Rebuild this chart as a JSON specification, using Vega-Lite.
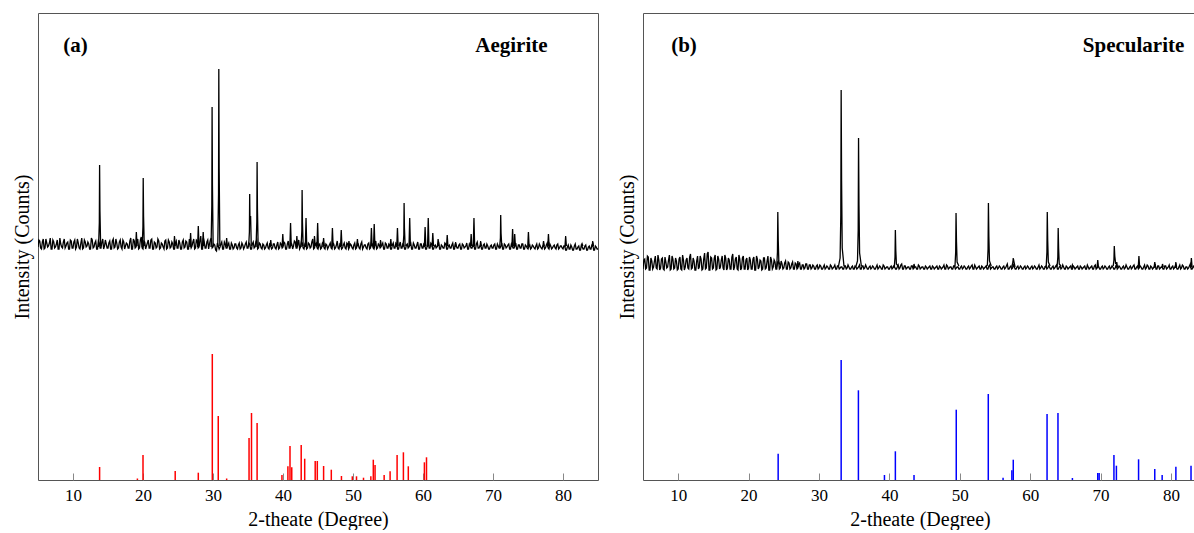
{
  "$schema": "https://vega.github.io/schema/vega-lite/v6.json",
  "padding": {"left": 11, "top": 12, "right": 0, "bottom": 0},
  "spacing": 17,
  "config": {
    "font": "Liberation Serif",
    "view": {"stroke": "#555555", "strokeWidth": 1},
    "axis": {"labelFont": "Liberation Serif", "titleFont": "Liberation Serif"},
    "text": {"font": "Liberation Serif"}
  },
  "datasets": {
    "aScan": [
      {"t":5,"i":233,"g":0},{"t":5.25,"i":239,"g":0},{"t":5.5,"i":231,"g":0},{"t":5.75,"i":241,"g":0},{"t":6,"i":232,"g":0},{"t":6.25,"i":237,"g":0},{"t":6.5,"i":234,"g":0},{"t":6.75,"i":242,"g":0},{"t":7,"i":231,"g":0},{"t":7.25,"i":238,"g":0},{"t":7.5,"i":233,"g":0},{"t":7.75,"i":240,"g":0},{"t":8,"i":231,"g":0},{"t":8.25,"i":236,"g":0},{"t":8.5,"i":232,"g":0},{"t":8.75,"i":241,"g":0},{"t":9,"i":234,"g":0},{"t":9.25,"i":238,"g":0},{"t":9.5,"i":231,"g":0},{"t":9.75,"i":239,"g":0},
      {"t":10,"i":232,"g":0},{"t":10.25,"i":240,"g":0},{"t":10.5,"i":233,"g":0},{"t":10.75,"i":237,"g":0},{"t":11,"i":231,"g":0},{"t":11.25,"i":242,"g":0},{"t":11.5,"i":232,"g":0},{"t":11.75,"i":238,"g":0},{"t":12,"i":234,"g":0},{"t":12.25,"i":236,"g":0},{"t":12.5,"i":231,"g":0},{"t":12.75,"i":240,"g":0},{"t":13,"i":233,"g":0},{"t":13.25,"i":239,"g":0},{"t":13.5,"i":231,"g":0},{"t":13.75,"i":237,"g":0},{"t":14,"i":232,"g":0},{"t":14.25,"i":241,"g":0},{"t":14.5,"i":234,"g":0},{"t":14.75,"i":236,"g":0},
      {"t":15,"i":232,"g":0},{"t":15.25,"i":239,"g":0},{"t":15.5,"i":231,"g":0},{"t":15.75,"i":241,"g":0},{"t":16,"i":233,"g":0},{"t":16.25,"i":237,"g":0},{"t":16.5,"i":232,"g":0},{"t":16.75,"i":240,"g":0},{"t":17,"i":231,"g":0},{"t":17.25,"i":238,"g":0},{"t":17.5,"i":234,"g":0},{"t":17.75,"i":236,"g":0},{"t":18,"i":232,"g":0},{"t":18.25,"i":242,"g":0},{"t":18.5,"i":231,"g":0},{"t":18.75,"i":239,"g":0},{"t":19,"i":233,"g":0},{"t":19.25,"i":241,"g":0},{"t":19.5,"i":232,"g":0},{"t":19.75,"i":243,"g":0},
      {"t":20,"i":231,"g":0},{"t":20.25,"i":238,"g":0},{"t":20.5,"i":234,"g":0},{"t":20.75,"i":240,"g":0},{"t":21,"i":232,"g":0},{"t":21.25,"i":241,"g":0},{"t":21.5,"i":231,"g":0},{"t":21.75,"i":237,"g":0},{"t":22,"i":233,"g":0},{"t":22.25,"i":239,"g":0},{"t":22.5,"i":232,"g":0},{"t":22.75,"i":236,"g":0},{"t":23,"i":231,"g":0},{"t":23.25,"i":240,"g":0},{"t":23.5,"i":232,"g":0},{"t":23.75,"i":238,"g":0},{"t":24,"i":233,"g":0},{"t":24.25,"i":236,"g":0},{"t":24.5,"i":231,"g":0},{"t":24.75,"i":239,"g":0},
      {"t":25,"i":232,"g":0},{"t":25.25,"i":237,"g":0},{"t":25.5,"i":231,"g":0},{"t":25.75,"i":240,"g":0},{"t":26,"i":233,"g":0},{"t":26.25,"i":238,"g":0},{"t":26.5,"i":231,"g":0},{"t":26.75,"i":236,"g":0},{"t":27,"i":234,"g":0},{"t":27.25,"i":241,"g":0},{"t":27.5,"i":232,"g":0},{"t":27.75,"i":239,"g":0},{"t":28,"i":233,"g":0},{"t":28.25,"i":244,"g":0},{"t":28.5,"i":231,"g":0},{"t":28.75,"i":238,"g":0},{"t":29,"i":232,"g":0},{"t":29.25,"i":240,"g":0},{"t":29.5,"i":236,"g":0},{"t":29.75,"i":242,"g":0},
      {"t":30,"i":233,"g":0},{"t":30.25,"i":235,"g":0},{"t":30.5,"i":229,"g":0},{"t":30.75,"i":234,"g":0},{"t":31,"i":233,"g":0},{"t":31.25,"i":238,"g":0},{"t":31.5,"i":231,"g":0},{"t":31.75,"i":236,"g":0},{"t":32,"i":232,"g":0},{"t":32.25,"i":237,"g":0},{"t":32.5,"i":231,"g":0},{"t":32.75,"i":235,"g":0},{"t":33,"i":232,"g":0},{"t":33.25,"i":236,"g":0},{"t":33.5,"i":231,"g":0},{"t":33.75,"i":237,"g":0},{"t":34,"i":232,"g":0},{"t":34.25,"i":235,"g":0},{"t":34.5,"i":233,"g":0},{"t":34.75,"i":238,"g":0},
      {"t":35,"i":232,"g":0},{"t":35.25,"i":236,"g":0},{"t":35.5,"i":231,"g":0},{"t":35.75,"i":238,"g":0},{"t":36,"i":233,"g":0},{"t":36.25,"i":240,"g":0},{"t":36.5,"i":232,"g":0},{"t":36.75,"i":236,"g":0},{"t":37,"i":231,"g":0},{"t":37.25,"i":235,"g":0},{"t":37.5,"i":232,"g":0},{"t":37.75,"i":237,"g":0},{"t":38,"i":231,"g":0},{"t":38.25,"i":234,"g":0},{"t":38.5,"i":232,"g":0},{"t":38.75,"i":236,"g":0},{"t":39,"i":231,"g":0},{"t":39.25,"i":238,"g":0},{"t":39.5,"i":232,"g":0},{"t":39.75,"i":236,"g":0},
      {"t":40,"i":233,"g":0},{"t":40.25,"i":237,"g":0},{"t":40.5,"i":231,"g":0},{"t":40.75,"i":239,"g":0},{"t":41,"i":232,"g":0},{"t":41.25,"i":236,"g":0},{"t":41.5,"i":234,"g":0},{"t":41.75,"i":238,"g":0},{"t":42,"i":232,"g":0},{"t":42.25,"i":240,"g":0},{"t":42.5,"i":233,"g":0},{"t":42.75,"i":237,"g":0},{"t":43,"i":231,"g":0},{"t":43.25,"i":238,"g":0},{"t":43.5,"i":232,"g":0},{"t":43.75,"i":236,"g":0},{"t":44,"i":233,"g":0},{"t":44.25,"i":241,"g":0},{"t":44.5,"i":232,"g":0},{"t":44.75,"i":237,"g":0},
      {"t":45,"i":231,"g":0},{"t":45.25,"i":236,"g":0},{"t":45.5,"i":232,"g":0},{"t":45.75,"i":238,"g":0},{"t":46,"i":231,"g":0},{"t":46.25,"i":235,"g":0},{"t":46.5,"i":233,"g":0},{"t":46.75,"i":237,"g":0},{"t":47,"i":231,"g":0},{"t":47.25,"i":236,"g":0},{"t":47.5,"i":232,"g":0},{"t":47.75,"i":239,"g":0},{"t":48,"i":231,"g":0},{"t":48.25,"i":235,"g":0},{"t":48.5,"i":232,"g":0},{"t":48.75,"i":237,"g":0},{"t":49,"i":231,"g":0},{"t":49.25,"i":236,"g":0},{"t":49.5,"i":233,"g":0},{"t":49.75,"i":235,"g":0},
      {"t":50,"i":231,"g":0},{"t":50.25,"i":237,"g":0},{"t":50.5,"i":232,"g":0},{"t":50.75,"i":236,"g":0},{"t":51,"i":231,"g":0},{"t":51.25,"i":238,"g":0},{"t":51.5,"i":233,"g":0},{"t":51.75,"i":235,"g":0},{"t":52,"i":231,"g":0},{"t":52.25,"i":237,"g":0},{"t":52.5,"i":232,"g":0},{"t":52.75,"i":236,"g":0},{"t":53,"i":231,"g":0},{"t":53.25,"i":239,"g":0},{"t":53.5,"i":232,"g":0},{"t":53.75,"i":235,"g":0},{"t":54,"i":233,"g":0},{"t":54.25,"i":237,"g":0},{"t":54.5,"i":231,"g":0},{"t":54.75,"i":236,"g":0},
      {"t":55,"i":232,"g":0},{"t":55.25,"i":235,"g":0},{"t":55.5,"i":231,"g":0},{"t":55.75,"i":237,"g":0},{"t":56,"i":232,"g":0},{"t":56.25,"i":236,"g":0},{"t":56.5,"i":231,"g":0},{"t":56.75,"i":238,"g":0},{"t":57,"i":232,"g":0},{"t":57.25,"i":235,"g":0},{"t":57.5,"i":231,"g":0},{"t":57.75,"i":236,"g":0},{"t":58,"i":233,"g":0},{"t":58.25,"i":237,"g":0},{"t":58.5,"i":231,"g":0},{"t":58.75,"i":235,"g":0},{"t":59,"i":232,"g":0},{"t":59.25,"i":238,"g":0},{"t":59.5,"i":231,"g":0},{"t":59.75,"i":236,"g":0},
      {"t":60,"i":232,"g":0},{"t":60.25,"i":235,"g":0},{"t":60.5,"i":231,"g":0},{"t":60.75,"i":237,"g":0},{"t":61,"i":232,"g":0},{"t":61.25,"i":236,"g":0},{"t":61.5,"i":231,"g":0},{"t":61.75,"i":235,"g":0},{"t":62,"i":233,"g":0},{"t":62.25,"i":237,"g":0},{"t":62.5,"i":231,"g":0},{"t":62.75,"i":234,"g":0},{"t":63,"i":232,"g":0},{"t":63.25,"i":236,"g":0},{"t":63.5,"i":231,"g":0},{"t":63.75,"i":235,"g":0},{"t":64,"i":232,"g":0},{"t":64.25,"i":237,"g":0},{"t":64.5,"i":231,"g":0},{"t":64.75,"i":234,"g":0},
      {"t":65,"i":232,"g":0},{"t":65.25,"i":236,"g":0},{"t":65.5,"i":231,"g":0},{"t":65.75,"i":235,"g":0},{"t":66,"i":233,"g":0},{"t":66.25,"i":237,"g":0},{"t":66.5,"i":231,"g":0},{"t":66.75,"i":234,"g":0},{"t":67,"i":232,"g":0},{"t":67.25,"i":236,"g":0},{"t":67.5,"i":231,"g":0},{"t":67.75,"i":238,"g":0},{"t":68,"i":232,"g":0},{"t":68.25,"i":235,"g":0},{"t":68.5,"i":231,"g":0},{"t":68.75,"i":236,"g":0},{"t":69,"i":232,"g":0},{"t":69.25,"i":234,"g":0},{"t":69.5,"i":231,"g":0},{"t":69.75,"i":235,"g":0},
      {"t":70,"i":232,"g":0},{"t":70.25,"i":236,"g":0},{"t":70.5,"i":231,"g":0},{"t":70.75,"i":234,"g":0},{"t":71,"i":232,"g":0},{"t":71.25,"i":237,"g":0},{"t":71.5,"i":231,"g":0},{"t":71.75,"i":235,"g":0},{"t":72,"i":233,"g":0},{"t":72.25,"i":236,"g":0},{"t":72.5,"i":231,"g":0},{"t":72.75,"i":234,"g":0},{"t":73,"i":232,"g":0},{"t":73.25,"i":237,"g":0},{"t":73.5,"i":231,"g":0},{"t":73.75,"i":235,"g":0},{"t":74,"i":232,"g":0},{"t":74.25,"i":236,"g":0},{"t":74.5,"i":231,"g":0},{"t":74.75,"i":234,"g":0},
      {"t":75,"i":231,"g":0},{"t":75.25,"i":235,"g":0},{"t":75.5,"i":232,"g":0},{"t":75.75,"i":234,"g":0},{"t":76,"i":231,"g":0},{"t":76.25,"i":236,"g":0},{"t":76.5,"i":232,"g":0},{"t":76.75,"i":234,"g":0},{"t":77,"i":231,"g":0},{"t":77.25,"i":235,"g":0},{"t":77.5,"i":232,"g":0},{"t":77.75,"i":237,"g":0},{"t":78,"i":231,"g":0},{"t":78.25,"i":234,"g":0},{"t":78.5,"i":232,"g":0},{"t":78.75,"i":235,"g":0},{"t":79,"i":231,"g":0},{"t":79.25,"i":236,"g":0},{"t":79.5,"i":232,"g":0},{"t":79.75,"i":234,"g":0},
      {"t":80,"i":231,"g":0},{"t":80.25,"i":234,"g":0},{"t":80.5,"i":230,"g":0},{"t":80.75,"i":235,"g":0},{"t":81,"i":231,"g":0},{"t":81.25,"i":233,"g":0},{"t":81.5,"i":230,"g":0},{"t":81.75,"i":236,"g":0},{"t":82,"i":231,"g":0},{"t":82.25,"i":234,"g":0},{"t":82.5,"i":230,"g":0},{"t":82.75,"i":233,"g":0},{"t":83,"i":231,"g":0},{"t":83.25,"i":235,"g":0},{"t":83.5,"i":230,"g":0},{"t":83.75,"i":234,"g":0},{"t":84,"i":231,"g":0},{"t":84.25,"i":236,"g":0},{"t":84.5,"i":230,"g":0},{"t":84.75,"i":233,"g":0},{"t":85,"i":231,"g":0},
      {"t":5.125,"i":240,"g":0},{"t":5.375,"i":232,"g":0},{"t":5.625,"i":238,"g":0},{"t":5.875,"i":231,"g":0},{"t":6.125,"i":241,"g":0},{"t":6.375,"i":233,"g":0},{"t":6.625,"i":237,"g":0},{"t":6.875,"i":231,"g":0},{"t":7.125,"i":240,"g":0},{"t":7.375,"i":232,"g":0},{"t":7.625,"i":236,"g":0},{"t":7.875,"i":231,"g":0},{"t":8.125,"i":242,"g":0},{"t":8.375,"i":233,"g":0},{"t":8.625,"i":238,"g":0},{"t":8.875,"i":232,"g":0},{"t":9.125,"i":237,"g":0},{"t":9.375,"i":231,"g":0},{"t":9.625,"i":240,"g":0},{"t":9.875,"i":232,"g":0},
      {"t":10.125,"i":238,"g":0},{"t":10.375,"i":231,"g":0},{"t":10.625,"i":241,"g":0},{"t":10.875,"i":232,"g":0},{"t":11.125,"i":237,"g":0},{"t":11.375,"i":231,"g":0},{"t":11.625,"i":240,"g":0},{"t":11.875,"i":233,"g":0},{"t":12.125,"i":238,"g":0},{"t":12.375,"i":231,"g":0},{"t":12.625,"i":242,"g":0},{"t":12.875,"i":232,"g":0},{"t":13.125,"i":237,"g":0},{"t":13.375,"i":231,"g":0},{"t":13.625,"i":239,"g":0},{"t":13.875,"i":232,"g":0},{"t":14.125,"i":238,"g":0},{"t":14.375,"i":231,"g":0},{"t":14.625,"i":240,"g":0},{"t":14.875,"i":232,"g":0},
      {"t":15.125,"i":237,"g":0},{"t":15.375,"i":231,"g":0},{"t":15.625,"i":239,"g":0},{"t":15.875,"i":232,"g":0},{"t":16.125,"i":241,"g":0},{"t":16.375,"i":231,"g":0},{"t":16.625,"i":238,"g":0},{"t":16.875,"i":233,"g":0},{"t":17.125,"i":240,"g":0},{"t":17.375,"i":231,"g":0},{"t":17.625,"i":237,"g":0},{"t":17.875,"i":232,"g":0},{"t":18.125,"i":239,"g":0},{"t":18.375,"i":231,"g":0},{"t":18.625,"i":241,"g":0},{"t":18.875,"i":232,"g":0},{"t":19.125,"i":238,"g":0},{"t":19.375,"i":231,"g":0},{"t":19.625,"i":240,"g":0},{"t":19.875,"i":232,"g":0},
      {"t":20.125,"i":239,"g":0},{"t":20.375,"i":231,"g":0},{"t":20.625,"i":237,"g":0},{"t":20.875,"i":232,"g":0},{"t":21.125,"i":240,"g":0},{"t":21.375,"i":231,"g":0},{"t":21.625,"i":238,"g":0},{"t":21.875,"i":232,"g":0},{"t":22.125,"i":241,"g":0},{"t":22.375,"i":231,"g":0},{"t":22.625,"i":237,"g":0},{"t":22.875,"i":233,"g":0},{"t":23.125,"i":239,"g":0},{"t":23.375,"i":231,"g":0},{"t":23.625,"i":240,"g":0},{"t":23.875,"i":232,"g":0},{"t":24.125,"i":238,"g":0},{"t":24.375,"i":231,"g":0},{"t":24.625,"i":237,"g":0},{"t":24.875,"i":232,"g":0},
      {"t":25.125,"i":240,"g":0},{"t":25.375,"i":231,"g":0},{"t":25.625,"i":238,"g":0},{"t":25.875,"i":232,"g":0},{"t":26.125,"i":239,"g":0},{"t":26.375,"i":231,"g":0},{"t":26.625,"i":241,"g":0},{"t":26.875,"i":232,"g":0},{"t":27.125,"i":238,"g":0},{"t":27.375,"i":231,"g":0},{"t":27.625,"i":240,"g":0},{"t":27.875,"i":232,"g":0},{"t":28.125,"i":239,"g":0},{"t":28.375,"i":231,"g":0},{"t":28.625,"i":242,"g":0},{"t":28.875,"i":232,"g":0},{"t":29.125,"i":238,"g":0},{"t":29.375,"i":231,"g":0},{"t":29.625,"i":240,"g":0},{"t":29.875,"i":232,"g":0},
      {"t":30.125,"i":236,"g":0},{"t":30.375,"i":230,"g":0},{"t":30.625,"i":237,"g":0},{"t":30.875,"i":231,"g":0},{"t":31.125,"i":236,"g":0},{"t":31.375,"i":231,"g":0},{"t":31.625,"i":238,"g":0},{"t":31.875,"i":232,"g":0},{"t":32.125,"i":235,"g":0},{"t":32.375,"i":231,"g":0},{"t":32.625,"i":237,"g":0},{"t":32.875,"i":231,"g":0},{"t":33.125,"i":236,"g":0},{"t":33.375,"i":232,"g":0},{"t":33.625,"i":235,"g":0},{"t":33.875,"i":231,"g":0},{"t":34.125,"i":237,"g":0},{"t":34.375,"i":231,"g":0},{"t":34.625,"i":236,"g":0},{"t":34.875,"i":232,"g":0},
      {"t":35.125,"i":237,"g":0},{"t":35.375,"i":231,"g":0},{"t":35.625,"i":236,"g":0},{"t":35.875,"i":232,"g":0},{"t":36.125,"i":238,"g":0},{"t":36.375,"i":231,"g":0},{"t":36.625,"i":237,"g":0},{"t":36.875,"i":232,"g":0},{"t":37.125,"i":236,"g":0},{"t":37.375,"i":231,"g":0},{"t":37.625,"i":235,"g":0},{"t":37.875,"i":232,"g":0},{"t":38.125,"i":237,"g":0},{"t":38.375,"i":231,"g":0},{"t":38.625,"i":236,"g":0},{"t":38.875,"i":232,"g":0},{"t":39.125,"i":235,"g":0},{"t":39.375,"i":231,"g":0},{"t":39.625,"i":237,"g":0},{"t":39.875,"i":232,"g":0},
      {"t":40.125,"i":238,"g":0},{"t":40.375,"i":231,"g":0},{"t":40.625,"i":236,"g":0},{"t":40.875,"i":232,"g":0},{"t":41.125,"i":237,"g":0},{"t":41.375,"i":231,"g":0},{"t":41.625,"i":239,"g":0},{"t":41.875,"i":232,"g":0},{"t":42.125,"i":236,"g":0},{"t":42.375,"i":231,"g":0},{"t":42.625,"i":238,"g":0},{"t":42.875,"i":232,"g":0},{"t":43.125,"i":236,"g":0},{"t":43.375,"i":231,"g":0},{"t":43.625,"i":237,"g":0},{"t":43.875,"i":232,"g":0},{"t":44.125,"i":238,"g":0},{"t":44.375,"i":231,"g":0},{"t":44.625,"i":236,"g":0},{"t":44.875,"i":232,"g":0},
      {"t":45.125,"i":235,"g":0},{"t":45.375,"i":231,"g":0},{"t":45.625,"i":237,"g":0},{"t":45.875,"i":232,"g":0},{"t":46.125,"i":236,"g":0},{"t":46.375,"i":231,"g":0},{"t":46.625,"i":235,"g":0},{"t":46.875,"i":232,"g":0},{"t":47.125,"i":237,"g":0},{"t":47.375,"i":231,"g":0},{"t":47.625,"i":235,"g":0},{"t":47.875,"i":232,"g":0},{"t":48.125,"i":236,"g":0},{"t":48.375,"i":231,"g":0},{"t":48.625,"i":235,"g":0},{"t":48.875,"i":232,"g":0},{"t":49.125,"i":237,"g":0},{"t":49.375,"i":231,"g":0},{"t":49.625,"i":236,"g":0},{"t":49.875,"i":232,"g":0},
      {"t":50.125,"i":235,"g":0},{"t":50.375,"i":231,"g":0},{"t":50.625,"i":237,"g":0},{"t":50.875,"i":232,"g":0},{"t":51.125,"i":236,"g":0},{"t":51.375,"i":231,"g":0},{"t":51.625,"i":235,"g":0},{"t":51.875,"i":232,"g":0},{"t":52.125,"i":236,"g":0},{"t":52.375,"i":231,"g":0},{"t":52.625,"i":237,"g":0},{"t":52.875,"i":232,"g":0},{"t":53.125,"i":235,"g":0},{"t":53.375,"i":231,"g":0},{"t":53.625,"i":236,"g":0},{"t":53.875,"i":232,"g":0},{"t":54.125,"i":235,"g":0},{"t":54.375,"i":231,"g":0},{"t":54.625,"i":237,"g":0},{"t":54.875,"i":232,"g":0},
      {"t":55.125,"i":236,"g":0},{"t":55.375,"i":231,"g":0},{"t":55.625,"i":235,"g":0},{"t":55.875,"i":232,"g":0},{"t":56.125,"i":237,"g":0},{"t":56.375,"i":231,"g":0},{"t":56.625,"i":235,"g":0},{"t":56.875,"i":232,"g":0},{"t":57.125,"i":236,"g":0},{"t":57.375,"i":231,"g":0},{"t":57.625,"i":235,"g":0},{"t":57.875,"i":232,"g":0},{"t":58.125,"i":236,"g":0},{"t":58.375,"i":231,"g":0},{"t":58.625,"i":237,"g":0},{"t":58.875,"i":232,"g":0},{"t":59.125,"i":235,"g":0},{"t":59.375,"i":231,"g":0},{"t":59.625,"i":236,"g":0},{"t":59.875,"i":232,"g":0},
      {"t":60.125,"i":236,"g":0},{"t":60.375,"i":231,"g":0},{"t":60.625,"i":235,"g":0},{"t":60.875,"i":232,"g":0},{"t":61.125,"i":237,"g":0},{"t":61.375,"i":231,"g":0},{"t":61.625,"i":234,"g":0},{"t":61.875,"i":232,"g":0},{"t":62.125,"i":236,"g":0},{"t":62.375,"i":231,"g":0},{"t":62.625,"i":235,"g":0},{"t":62.875,"i":232,"g":0},{"t":63.125,"i":237,"g":0},{"t":63.375,"i":231,"g":0},{"t":63.625,"i":234,"g":0},{"t":63.875,"i":232,"g":0},{"t":64.125,"i":235,"g":0},{"t":64.375,"i":231,"g":0},{"t":64.625,"i":236,"g":0},{"t":64.875,"i":232,"g":0},
      {"t":65.125,"i":235,"g":0},{"t":65.375,"i":231,"g":0},{"t":65.625,"i":236,"g":0},{"t":65.875,"i":232,"g":0},{"t":66.125,"i":234,"g":0},{"t":66.375,"i":231,"g":0},{"t":66.625,"i":236,"g":0},{"t":66.875,"i":232,"g":0},{"t":67.125,"i":235,"g":0},{"t":67.375,"i":231,"g":0},{"t":67.625,"i":236,"g":0},{"t":67.875,"i":232,"g":0},{"t":68.125,"i":234,"g":0},{"t":68.375,"i":231,"g":0},{"t":68.625,"i":235,"g":0},{"t":68.875,"i":232,"g":0},{"t":69.125,"i":236,"g":0},{"t":69.375,"i":231,"g":0},{"t":69.625,"i":234,"g":0},{"t":69.875,"i":232,"g":0},
      {"t":70.125,"i":235,"g":0},{"t":70.375,"i":231,"g":0},{"t":70.625,"i":236,"g":0},{"t":70.875,"i":232,"g":0},{"t":71.125,"i":234,"g":0},{"t":71.375,"i":231,"g":0},{"t":71.625,"i":236,"g":0},{"t":71.875,"i":232,"g":0},{"t":72.125,"i":235,"g":0},{"t":72.375,"i":231,"g":0},{"t":72.625,"i":236,"g":0},{"t":72.875,"i":232,"g":0},{"t":73.125,"i":234,"g":0},{"t":73.375,"i":231,"g":0},{"t":73.625,"i":235,"g":0},{"t":73.875,"i":232,"g":0},{"t":74.125,"i":236,"g":0},{"t":74.375,"i":231,"g":0},{"t":74.625,"i":235,"g":0},{"t":74.875,"i":232,"g":0},
      {"t":75.125,"i":234,"g":0},{"t":75.375,"i":231,"g":0},{"t":75.625,"i":235,"g":0},{"t":75.875,"i":232,"g":0},{"t":76.125,"i":234,"g":0},{"t":76.375,"i":231,"g":0},{"t":76.625,"i":236,"g":0},{"t":76.875,"i":232,"g":0},{"t":77.125,"i":234,"g":0},{"t":77.375,"i":231,"g":0},{"t":77.625,"i":235,"g":0},{"t":77.875,"i":232,"g":0},{"t":78.125,"i":236,"g":0},{"t":78.375,"i":231,"g":0},{"t":78.625,"i":234,"g":0},{"t":78.875,"i":232,"g":0},{"t":79.125,"i":235,"g":0},{"t":79.375,"i":231,"g":0},{"t":79.625,"i":234,"g":0},{"t":79.875,"i":232,"g":0},
      {"t":80.125,"i":234,"g":0},{"t":80.375,"i":230,"g":0},{"t":80.625,"i":233,"g":0},{"t":80.875,"i":231,"g":0},{"t":81.125,"i":235,"g":0},{"t":81.375,"i":230,"g":0},{"t":81.625,"i":234,"g":0},{"t":81.875,"i":231,"g":0},{"t":82.125,"i":233,"g":0},{"t":82.375,"i":230,"g":0},{"t":82.625,"i":235,"g":0},{"t":82.875,"i":231,"g":0},{"t":83.125,"i":234,"g":0},{"t":83.375,"i":230,"g":0},{"t":83.625,"i":233,"g":0},{"t":83.875,"i":231,"g":0},{"t":84.125,"i":235,"g":0},{"t":84.375,"i":230,"g":0},{"t":84.625,"i":234,"g":0},{"t":84.875,"i":231,"g":0},
      {"t":13.65,"i":233,"g":1},{"t":13.76,"i":257,"g":1},{"t":13.8,"i":315,"g":1},{"t":13.85,"i":269,"g":1},{"t":13.95,"i":234,"g":1},
      {"t":19.88,"i":233,"g":2},{"t":19.99,"i":253,"g":2},{"t":20.03,"i":302,"g":2},{"t":20.08,"i":264,"g":2},{"t":20.18,"i":234,"g":2},
      {"t":29.72,"i":233,"g":3},{"t":29.83,"i":274,"g":3},{"t":29.87,"i":373,"g":3},{"t":29.92,"i":295,"g":3},{"t":30.02,"i":234,"g":3},
      {"t":30.68,"i":233,"g":4},{"t":30.79,"i":286,"g":4},{"t":30.83,"i":411,"g":4},{"t":30.88,"i":312,"g":4},{"t":30.98,"i":234,"g":4},
      {"t":35.09,"i":233,"g":5},{"t":35.2,"i":248,"g":5},{"t":35.24,"i":286,"g":5},{"t":35.29,"i":256,"g":5},{"t":35.37,"i":264,"g":5},{"t":35.47,"i":234,"g":5},
      {"t":36.15,"i":233,"g":6},{"t":36.26,"i":258,"g":6},{"t":36.3,"i":318,"g":6},{"t":36.35,"i":271,"g":6},{"t":36.45,"i":234,"g":6},
      {"t":42.58,"i":233,"g":7},{"t":42.69,"i":249,"g":7},{"t":42.73,"i":290,"g":7},{"t":42.78,"i":258,"g":7},{"t":42.88,"i":234,"g":7},
      {"t":57.15,"i":233,"g":8},{"t":57.26,"i":245,"g":8},{"t":57.3,"i":277,"g":8},{"t":57.35,"i":252,"g":8},{"t":57.45,"i":234,"g":8},
      {"t":70.95,"i":233,"g":9},{"t":71.06,"i":242,"g":9},{"t":71.1,"i":265,"g":9},{"t":71.15,"i":247,"g":9},{"t":71.25,"i":234,"g":9},
      {"t":18.95,"i":233,"g":10},{"t":19.05,"i":248,"g":10},{"t":19.15,"i":234,"g":10},
      {"t":24.4,"i":233,"g":11},{"t":24.5,"i":244,"g":11},{"t":24.6,"i":234,"g":11},
      {"t":26.7,"i":233,"g":12},{"t":26.8,"i":247,"g":12},{"t":26.9,"i":234,"g":12},
      {"t":27.8,"i":233,"g":13},{"t":27.9,"i":254,"g":13},{"t":28,"i":234,"g":13},
      {"t":28.5,"i":233,"g":14},{"t":28.6,"i":248,"g":14},{"t":28.7,"i":234,"g":14},
      {"t":31.85,"i":233,"g":15},{"t":31.95,"i":242,"g":15},{"t":32.05,"i":234,"g":15},
      {"t":38.15,"i":233,"g":16},{"t":38.25,"i":240,"g":16},{"t":38.35,"i":234,"g":16},
      {"t":39.87,"i":233,"g":17},{"t":39.97,"i":246,"g":17},{"t":40.07,"i":234,"g":17},
      {"t":40.98,"i":233,"g":18},{"t":41.08,"i":257,"g":18},{"t":41.18,"i":234,"g":18},
      {"t":41.88,"i":233,"g":19},{"t":41.98,"i":244,"g":19},{"t":42.08,"i":234,"g":19},
      {"t":43.19,"i":233,"g":20},{"t":43.29,"i":262,"g":20},{"t":43.39,"i":234,"g":20},
      {"t":44.4,"i":233,"g":21},{"t":44.5,"i":244,"g":21},{"t":44.6,"i":234,"g":21},
      {"t":44.85,"i":233,"g":22},{"t":44.95,"i":257,"g":22},{"t":45.05,"i":234,"g":22},
      {"t":45.7,"i":233,"g":23},{"t":45.8,"i":242,"g":23},{"t":45.9,"i":234,"g":23},
      {"t":46.96,"i":233,"g":24},{"t":47.06,"i":252,"g":24},{"t":47.16,"i":234,"g":24},
      {"t":48.22,"i":233,"g":25},{"t":48.32,"i":250,"g":25},{"t":48.42,"i":234,"g":25},
      {"t":49.32,"i":233,"g":26},{"t":49.42,"i":239,"g":26},{"t":49.52,"i":234,"g":26},
      {"t":50.53,"i":233,"g":27},{"t":50.63,"i":241,"g":27},{"t":50.73,"i":234,"g":27},
      {"t":52.53,"i":233,"g":28},{"t":52.63,"i":252,"g":28},{"t":52.73,"i":234,"g":28},
      {"t":52.93,"i":233,"g":29},{"t":53.03,"i":256,"g":29},{"t":53.13,"i":234,"g":29},
      {"t":53.84,"i":233,"g":30},{"t":53.94,"i":240,"g":30},{"t":54.04,"i":234,"g":30},
      {"t":55.3,"i":233,"g":31},{"t":55.4,"i":241,"g":31},{"t":55.5,"i":234,"g":31},
      {"t":56.25,"i":233,"g":32},{"t":56.35,"i":252,"g":32},{"t":56.45,"i":234,"g":32},
      {"t":58,"i":233,"g":33},{"t":58.1,"i":262,"g":33},{"t":58.2,"i":234,"g":33},
      {"t":60.2,"i":233,"g":34},{"t":60.3,"i":253,"g":34},{"t":60.4,"i":234,"g":34},
      {"t":60.65,"i":233,"g":35},{"t":60.75,"i":262,"g":35},{"t":60.85,"i":234,"g":35},
      {"t":61.3,"i":233,"g":36},{"t":61.4,"i":247,"g":36},{"t":61.5,"i":234,"g":36},
      {"t":62.06,"i":233,"g":37},{"t":62.16,"i":241,"g":37},{"t":62.26,"i":234,"g":37},
      {"t":63.36,"i":233,"g":38},{"t":63.46,"i":245,"g":38},{"t":63.56,"i":234,"g":38},
      {"t":64.57,"i":233,"g":39},{"t":64.67,"i":238,"g":39},{"t":64.77,"i":234,"g":39},
      {"t":66.78,"i":233,"g":40},{"t":66.88,"i":246,"g":40},{"t":66.98,"i":234,"g":40},
      {"t":67.18,"i":233,"g":41},{"t":67.28,"i":262,"g":41},{"t":67.38,"i":234,"g":41},
      {"t":68.14,"i":233,"g":42},{"t":68.24,"i":239,"g":42},{"t":68.34,"i":234,"g":42},
      {"t":72.7,"i":233,"g":43},{"t":72.8,"i":251,"g":43},{"t":72.9,"i":234,"g":43},
      {"t":73,"i":233,"g":44},{"t":73.1,"i":246,"g":44},{"t":73.2,"i":234,"g":44},
      {"t":74.96,"i":233,"g":45},{"t":75.06,"i":248,"g":45},{"t":75.16,"i":234,"g":45},
      {"t":77.12,"i":233,"g":46},{"t":77.22,"i":239,"g":46},{"t":77.32,"i":234,"g":46},
      {"t":77.82,"i":233,"g":47},{"t":77.92,"i":246,"g":47},{"t":78.02,"i":234,"g":47},
      {"t":80.28,"i":233,"g":48},{"t":80.38,"i":244,"g":48},{"t":80.48,"i":234,"g":48},
      {"t":82.64,"i":233,"g":49},{"t":82.74,"i":236,"g":49},{"t":82.84,"i":234,"g":49},
      {"t":84.15,"i":233,"g":50},{"t":84.25,"i":239,"g":50},{"t":84.35,"i":234,"g":50}
    ],
    "aRef": [
      {"t":13.8,"h":13},{"t":19.2,"h":1.5},{"t":20.0,"h":25},{"t":24.6,"h":9},{"t":27.9,"h":7.3},{"t":29.9,"h":126},{"t":30.75,"h":64},{"t":31.95,"h":1.5},{"t":35.15,"h":42},{"t":35.5,"h":67},{"t":36.3,"h":57},{"t":39.85,"h":5},{"t":40.7,"h":13.7},{"t":41.0,"h":34},{"t":41.25,"h":12.7},{"t":42.6,"h":35},{"t":43.1,"h":21.3},{"t":44.6,"h":19},{"t":44.9,"h":19},{"t":45.8,"h":14},{"t":46.9,"h":10.3},{"t":48.35,"h":4},{"t":49.9,"h":3.7},{"t":50.5,"h":3.7},{"t":51.5,"h":2.3},{"t":52.55,"h":3.7},{"t":52.9,"h":20.3},{"t":53.15,"h":15},{"t":54.45,"h":5},{"t":55.3,"h":8.7},{"t":56.3,"h":25},{"t":57.2,"h":27.7},{"t":57.9,"h":13.7},{"t":60.2,"h":17.7},{"t":60.5,"h":22.7}
    ],
    "aText": [{"t":8.6,"i":428,"s":"(a)"}],
    "aName": [{"t":77.8,"i":428,"s":"Aegirite"}],
    "bScan": [
      {"t":5,"i":211,"g":0},{"t":5.25,"i":221,"g":0},{"t":5.5,"i":212,"g":0},{"t":5.75,"i":223,"g":0},{"t":6,"i":210,"g":0},{"t":6.25,"i":219,"g":0},{"t":6.5,"i":213,"g":0},{"t":6.75,"i":224,"g":0},{"t":7,"i":211,"g":0},{"t":7.25,"i":220,"g":0},{"t":7.5,"i":212,"g":0},{"t":7.75,"i":222,"g":0},{"t":8,"i":210,"g":0},{"t":8.25,"i":218,"g":0},{"t":8.5,"i":213,"g":0},{"t":8.75,"i":225,"g":0},{"t":9,"i":211,"g":0},{"t":9.25,"i":221,"g":0},{"t":9.5,"i":212,"g":0},{"t":9.75,"i":219,"g":0},
      {"t":10,"i":211,"g":0},{"t":10.25,"i":223,"g":0},{"t":10.5,"i":210,"g":0},{"t":10.75,"i":220,"g":0},{"t":11,"i":213,"g":0},{"t":11.25,"i":222,"g":0},{"t":11.5,"i":211,"g":0},{"t":11.75,"i":226,"g":0},{"t":12,"i":212,"g":0},{"t":12.25,"i":219,"g":0},{"t":12.5,"i":210,"g":0},{"t":12.75,"i":224,"g":0},{"t":13,"i":213,"g":0},{"t":13.25,"i":221,"g":0},{"t":13.5,"i":211,"g":0},{"t":13.75,"i":227,"g":0},{"t":14,"i":212,"g":0},{"t":14.25,"i":228,"g":0},{"t":14.5,"i":210,"g":0},{"t":14.75,"i":222,"g":0},
      {"t":15,"i":212,"g":0},{"t":15.25,"i":225,"g":0},{"t":15.5,"i":211,"g":0},{"t":15.75,"i":221,"g":0},{"t":16,"i":213,"g":0},{"t":16.25,"i":224,"g":0},{"t":16.5,"i":210,"g":0},{"t":16.75,"i":222,"g":0},{"t":17,"i":212,"g":0},{"t":17.25,"i":220,"g":0},{"t":17.5,"i":211,"g":0},{"t":17.75,"i":226,"g":0},{"t":18,"i":213,"g":0},{"t":18.25,"i":223,"g":0},{"t":18.5,"i":210,"g":0},{"t":18.75,"i":221,"g":0},{"t":19,"i":212,"g":0},{"t":19.25,"i":224,"g":0},{"t":19.5,"i":211,"g":0},{"t":19.75,"i":222,"g":0},
      {"t":20,"i":212,"g":0},{"t":20.25,"i":220,"g":0},{"t":20.5,"i":211,"g":0},{"t":20.75,"i":223,"g":0},{"t":21,"i":210,"g":0},{"t":21.25,"i":221,"g":0},{"t":21.5,"i":213,"g":0},{"t":21.75,"i":219,"g":0},{"t":22,"i":211,"g":0},{"t":22.25,"i":222,"g":0},{"t":22.5,"i":212,"g":0},{"t":22.75,"i":224,"g":0},{"t":23,"i":210,"g":0},{"t":23.25,"i":220,"g":0},{"t":23.5,"i":213,"g":0},{"t":23.75,"i":218,"g":0},{"t":24,"i":211,"g":0},{"t":24.25,"i":219,"g":0},{"t":24.5,"i":212,"g":0},{"t":24.75,"i":216,"g":0},
      {"t":25,"i":212,"g":0},{"t":25.25,"i":219,"g":0},{"t":25.5,"i":211,"g":0},{"t":25.75,"i":217,"g":0},{"t":26,"i":212,"g":0},{"t":26.25,"i":218,"g":0},{"t":26.5,"i":211,"g":0},{"t":26.75,"i":216,"g":0},{"t":27,"i":212,"g":0},{"t":27.25,"i":217,"g":0},{"t":27.5,"i":211,"g":0},{"t":27.75,"i":215,"g":0},{"t":28,"i":212,"g":0},{"t":28.25,"i":216,"g":0},{"t":28.5,"i":211,"g":0},{"t":28.75,"i":215,"g":0},{"t":29,"i":212,"g":0},{"t":29.25,"i":214,"g":0},{"t":29.5,"i":211,"g":0},{"t":29.75,"i":215,"g":0},
      {"t":30,"i":212,"g":0},{"t":30.25,"i":214,"g":0},{"t":30.5,"i":211,"g":0},{"t":30.75,"i":215,"g":0},{"t":31,"i":212,"g":0},{"t":31.25,"i":213,"g":0},{"t":31.5,"i":211,"g":0},{"t":31.75,"i":214,"g":0},{"t":32,"i":212,"g":0},{"t":32.25,"i":215,"g":0},{"t":32.5,"i":211,"g":0},{"t":32.75,"i":214,"g":0},{"t":33,"i":212,"g":0},{"t":33.25,"i":213,"g":0},{"t":33.5,"i":211,"g":0},{"t":33.75,"i":214,"g":0},{"t":34,"i":212,"g":0},{"t":34.25,"i":213,"g":0},{"t":34.5,"i":211,"g":0},{"t":34.75,"i":214,"g":0},
      {"t":35,"i":211,"g":0},{"t":35.25,"i":213,"g":0},{"t":35.5,"i":212,"g":0},{"t":35.75,"i":215,"g":0},{"t":36,"i":211,"g":0},{"t":36.25,"i":214,"g":0},{"t":36.5,"i":212,"g":0},{"t":36.75,"i":213,"g":0},{"t":37,"i":211,"g":0},{"t":37.25,"i":214,"g":0},{"t":37.5,"i":212,"g":0},{"t":37.75,"i":213,"g":0},{"t":38,"i":211,"g":0},{"t":38.25,"i":215,"g":0},{"t":38.5,"i":212,"g":0},{"t":38.75,"i":213,"g":0},{"t":39,"i":211,"g":0},{"t":39.25,"i":214,"g":0},{"t":39.5,"i":212,"g":0},{"t":39.75,"i":213,"g":0},
      {"t":40,"i":211,"g":0},{"t":40.25,"i":214,"g":0},{"t":40.5,"i":212,"g":0},{"t":40.75,"i":213,"g":0},{"t":41,"i":211,"g":0},{"t":41.25,"i":215,"g":0},{"t":41.5,"i":212,"g":0},{"t":41.75,"i":216,"g":0},{"t":42,"i":211,"g":0},{"t":42.25,"i":214,"g":0},{"t":42.5,"i":212,"g":0},{"t":42.75,"i":213,"g":0},{"t":43,"i":211,"g":0},{"t":43.25,"i":214,"g":0},{"t":43.5,"i":212,"g":0},{"t":43.75,"i":213,"g":0},{"t":44,"i":211,"g":0},{"t":44.25,"i":214,"g":0},{"t":44.5,"i":212,"g":0},{"t":44.75,"i":213,"g":0},
      {"t":45,"i":211,"g":0},{"t":45.25,"i":213,"g":0},{"t":45.5,"i":212,"g":0},{"t":45.75,"i":214,"g":0},{"t":46,"i":211,"g":0},{"t":46.25,"i":213,"g":0},{"t":46.5,"i":212,"g":0},{"t":46.75,"i":214,"g":0},{"t":47,"i":211,"g":0},{"t":47.25,"i":213,"g":0},{"t":47.5,"i":212,"g":0},{"t":47.75,"i":215,"g":0},{"t":48,"i":211,"g":0},{"t":48.25,"i":214,"g":0},{"t":48.5,"i":212,"g":0},{"t":48.75,"i":213,"g":0},{"t":49,"i":211,"g":0},{"t":49.25,"i":214,"g":0},{"t":49.5,"i":212,"g":0},{"t":49.75,"i":213,"g":0},
      {"t":50,"i":211,"g":0},{"t":50.25,"i":214,"g":0},{"t":50.5,"i":212,"g":0},{"t":50.75,"i":213,"g":0},{"t":51,"i":211,"g":0},{"t":51.25,"i":214,"g":0},{"t":51.5,"i":212,"g":0},{"t":51.75,"i":215,"g":0},{"t":52,"i":211,"g":0},{"t":52.25,"i":213,"g":0},{"t":52.5,"i":212,"g":0},{"t":52.75,"i":214,"g":0},{"t":53,"i":211,"g":0},{"t":53.25,"i":213,"g":0},{"t":53.5,"i":212,"g":0},{"t":53.75,"i":214,"g":0},{"t":54,"i":211,"g":0},{"t":54.25,"i":215,"g":0},{"t":54.5,"i":212,"g":0},{"t":54.75,"i":213,"g":0},
      {"t":55,"i":211,"g":0},{"t":55.25,"i":214,"g":0},{"t":55.5,"i":212,"g":0},{"t":55.75,"i":213,"g":0},{"t":56,"i":211,"g":0},{"t":56.25,"i":214,"g":0},{"t":56.5,"i":212,"g":0},{"t":56.75,"i":216,"g":0},{"t":57,"i":211,"g":0},{"t":57.25,"i":214,"g":0},{"t":57.5,"i":212,"g":0},{"t":57.75,"i":213,"g":0},{"t":58,"i":211,"g":0},{"t":58.25,"i":214,"g":0},{"t":58.5,"i":212,"g":0},{"t":58.75,"i":213,"g":0},{"t":59,"i":211,"g":0},{"t":59.25,"i":214,"g":0},{"t":59.5,"i":212,"g":0},{"t":59.75,"i":213,"g":0},
      {"t":60,"i":211,"g":0},{"t":60.25,"i":214,"g":0},{"t":60.5,"i":212,"g":0},{"t":60.75,"i":213,"g":0},{"t":61,"i":211,"g":0},{"t":61.25,"i":215,"g":0},{"t":61.5,"i":212,"g":0},{"t":61.75,"i":213,"g":0},{"t":62,"i":211,"g":0},{"t":62.25,"i":214,"g":0},{"t":62.5,"i":212,"g":0},{"t":62.75,"i":213,"g":0},{"t":63,"i":211,"g":0},{"t":63.25,"i":214,"g":0},{"t":63.5,"i":212,"g":0},{"t":63.75,"i":215,"g":0},{"t":64,"i":211,"g":0},{"t":64.25,"i":214,"g":0},{"t":64.5,"i":212,"g":0},{"t":64.75,"i":213,"g":0},
      {"t":65,"i":211,"g":0},{"t":65.25,"i":213,"g":0},{"t":65.5,"i":212,"g":0},{"t":65.75,"i":214,"g":0},{"t":66,"i":211,"g":0},{"t":66.25,"i":213,"g":0},{"t":66.5,"i":212,"g":0},{"t":66.75,"i":214,"g":0},{"t":67,"i":211,"g":0},{"t":67.25,"i":213,"g":0},{"t":67.5,"i":212,"g":0},{"t":67.75,"i":214,"g":0},{"t":68,"i":211,"g":0},{"t":68.25,"i":213,"g":0},{"t":68.5,"i":212,"g":0},{"t":68.75,"i":214,"g":0},{"t":69,"i":211,"g":0},{"t":69.25,"i":215,"g":0},{"t":69.5,"i":212,"g":0},{"t":69.75,"i":213,"g":0},
      {"t":70,"i":211,"g":0},{"t":70.25,"i":214,"g":0},{"t":70.5,"i":212,"g":0},{"t":70.75,"i":213,"g":0},{"t":71,"i":211,"g":0},{"t":71.25,"i":214,"g":0},{"t":71.5,"i":212,"g":0},{"t":71.75,"i":213,"g":0},{"t":72,"i":211,"g":0},{"t":72.25,"i":215,"g":0},{"t":72.5,"i":212,"g":0},{"t":72.75,"i":213,"g":0},{"t":73,"i":211,"g":0},{"t":73.25,"i":214,"g":0},{"t":73.5,"i":212,"g":0},{"t":73.75,"i":213,"g":0},{"t":74,"i":211,"g":0},{"t":74.25,"i":214,"g":0},{"t":74.5,"i":212,"g":0},{"t":74.75,"i":215,"g":0},
      {"t":75,"i":211,"g":0},{"t":75.25,"i":214,"g":0},{"t":75.5,"i":212,"g":0},{"t":75.75,"i":213,"g":0},{"t":76,"i":211,"g":0},{"t":76.25,"i":215,"g":0},{"t":76.5,"i":212,"g":0},{"t":76.75,"i":214,"g":0},{"t":77,"i":211,"g":0},{"t":77.25,"i":213,"g":0},{"t":77.5,"i":212,"g":0},{"t":77.75,"i":216,"g":0},{"t":78,"i":211,"g":0},{"t":78.25,"i":214,"g":0},{"t":78.5,"i":212,"g":0},{"t":78.75,"i":213,"g":0},{"t":79,"i":211,"g":0},{"t":79.25,"i":214,"g":0},{"t":79.5,"i":212,"g":0},{"t":79.75,"i":215,"g":0},
      {"t":80,"i":211,"g":0},{"t":80.25,"i":214,"g":0},{"t":80.5,"i":212,"g":0},{"t":80.75,"i":213,"g":0},{"t":81,"i":211,"g":0},{"t":81.25,"i":215,"g":0},{"t":81.5,"i":212,"g":0},{"t":81.75,"i":214,"g":0},{"t":82,"i":211,"g":0},{"t":82.25,"i":213,"g":0},{"t":82.5,"i":212,"g":0},{"t":82.75,"i":216,"g":0},{"t":83,"i":211,"g":0},{"t":83.25,"i":214,"g":0},{"t":83.5,"i":212,"g":0},{"t":83.7,"i":215,"g":0},
      {"t":5.125,"i":220,"g":0},{"t":5.375,"i":211,"g":0},{"t":5.625,"i":224,"g":0},{"t":5.875,"i":210,"g":0},{"t":6.125,"i":222,"g":0},{"t":6.375,"i":211,"g":0},{"t":6.625,"i":219,"g":0},{"t":6.875,"i":212,"g":0},{"t":7.125,"i":225,"g":0},{"t":7.375,"i":210,"g":0},{"t":7.625,"i":221,"g":0},{"t":7.875,"i":211,"g":0},{"t":8.125,"i":223,"g":0},{"t":8.375,"i":212,"g":0},{"t":8.625,"i":220,"g":0},{"t":8.875,"i":210,"g":0},{"t":9.125,"i":224,"g":0},{"t":9.375,"i":211,"g":0},{"t":9.625,"i":222,"g":0},{"t":9.875,"i":210,"g":0},
      {"t":10.125,"i":221,"g":0},{"t":10.375,"i":211,"g":0},{"t":10.625,"i":225,"g":0},{"t":10.875,"i":210,"g":0},{"t":11.125,"i":220,"g":0},{"t":11.375,"i":212,"g":0},{"t":11.625,"i":223,"g":0},{"t":11.875,"i":211,"g":0},{"t":12.125,"i":222,"g":0},{"t":12.375,"i":210,"g":0},{"t":12.625,"i":219,"g":0},{"t":12.875,"i":211,"g":0},{"t":13.125,"i":224,"g":0},{"t":13.375,"i":210,"g":0},{"t":13.625,"i":221,"g":0},{"t":13.875,"i":211,"g":0},{"t":14.125,"i":226,"g":0},{"t":14.375,"i":210,"g":0},{"t":14.625,"i":223,"g":0},{"t":14.875,"i":211,"g":0},
      {"t":15.125,"i":222,"g":0},{"t":15.375,"i":210,"g":0},{"t":15.625,"i":224,"g":0},{"t":15.875,"i":211,"g":0},{"t":16.125,"i":220,"g":0},{"t":16.375,"i":212,"g":0},{"t":16.625,"i":225,"g":0},{"t":16.875,"i":210,"g":0},{"t":17.125,"i":222,"g":0},{"t":17.375,"i":211,"g":0},{"t":17.625,"i":223,"g":0},{"t":17.875,"i":210,"g":0},{"t":18.125,"i":221,"g":0},{"t":18.375,"i":211,"g":0},{"t":18.625,"i":225,"g":0},{"t":18.875,"i":210,"g":0},{"t":19.125,"i":222,"g":0},{"t":19.375,"i":211,"g":0},{"t":19.625,"i":220,"g":0},{"t":19.875,"i":210,"g":0},
      {"t":20.125,"i":223,"g":0},{"t":20.375,"i":211,"g":0},{"t":20.625,"i":221,"g":0},{"t":20.875,"i":210,"g":0},{"t":21.125,"i":224,"g":0},{"t":21.375,"i":211,"g":0},{"t":21.625,"i":220,"g":0},{"t":21.875,"i":210,"g":0},{"t":22.125,"i":222,"g":0},{"t":22.375,"i":211,"g":0},{"t":22.625,"i":219,"g":0},{"t":22.875,"i":210,"g":0},{"t":23.125,"i":223,"g":0},{"t":23.375,"i":211,"g":0},{"t":23.625,"i":220,"g":0},{"t":23.875,"i":211,"g":0},{"t":24.125,"i":218,"g":0},{"t":24.375,"i":211,"g":0},{"t":24.625,"i":219,"g":0},{"t":24.875,"i":211,"g":0},
      {"t":25.125,"i":217,"g":0},{"t":25.375,"i":211,"g":0},{"t":25.625,"i":218,"g":0},{"t":25.875,"i":211,"g":0},{"t":26.125,"i":216,"g":0},{"t":26.375,"i":211,"g":0},{"t":26.625,"i":217,"g":0},{"t":26.875,"i":211,"g":0},{"t":27.125,"i":216,"g":0},{"t":27.375,"i":211,"g":0},{"t":27.625,"i":215,"g":0},{"t":27.875,"i":211,"g":0},{"t":28.125,"i":216,"g":0},{"t":28.375,"i":211,"g":0},{"t":28.625,"i":215,"g":0},{"t":28.875,"i":211,"g":0},{"t":29.125,"i":215,"g":0},{"t":29.375,"i":211,"g":0},{"t":29.625,"i":214,"g":0},{"t":29.875,"i":211,"g":0},
      {"t":30.125,"i":215,"g":0},{"t":30.375,"i":211,"g":0},{"t":30.625,"i":213,"g":0},{"t":30.875,"i":211,"g":0},{"t":31.125,"i":214,"g":0},{"t":31.375,"i":211,"g":0},{"t":31.625,"i":215,"g":0},{"t":31.875,"i":211,"g":0},{"t":32.125,"i":213,"g":0},{"t":32.375,"i":211,"g":0},{"t":32.625,"i":214,"g":0},{"t":32.875,"i":211,"g":0},{"t":33.125,"i":213,"g":0},{"t":33.375,"i":211,"g":0},{"t":33.625,"i":214,"g":0},{"t":33.875,"i":211,"g":0},{"t":34.125,"i":215,"g":0},{"t":34.375,"i":211,"g":0},{"t":34.625,"i":213,"g":0},{"t":34.875,"i":211,"g":0},
      {"t":35.125,"i":214,"g":0},{"t":35.375,"i":211,"g":0},{"t":35.625,"i":213,"g":0},{"t":35.875,"i":211,"g":0},{"t":36.125,"i":214,"g":0},{"t":36.375,"i":211,"g":0},{"t":36.625,"i":215,"g":0},{"t":36.875,"i":211,"g":0},{"t":37.125,"i":213,"g":0},{"t":37.375,"i":211,"g":0},{"t":37.625,"i":214,"g":0},{"t":37.875,"i":211,"g":0},{"t":38.125,"i":213,"g":0},{"t":38.375,"i":211,"g":0},{"t":38.625,"i":214,"g":0},{"t":38.875,"i":211,"g":0},{"t":39.125,"i":215,"g":0},{"t":39.375,"i":211,"g":0},{"t":39.625,"i":213,"g":0},{"t":39.875,"i":211,"g":0},
      {"t":40.125,"i":213,"g":0},{"t":40.375,"i":211,"g":0},{"t":40.625,"i":214,"g":0},{"t":40.875,"i":211,"g":0},{"t":41.125,"i":213,"g":0},{"t":41.375,"i":211,"g":0},{"t":41.625,"i":215,"g":0},{"t":41.875,"i":211,"g":0},{"t":42.125,"i":214,"g":0},{"t":42.375,"i":211,"g":0},{"t":42.625,"i":213,"g":0},{"t":42.875,"i":211,"g":0},{"t":43.125,"i":214,"g":0},{"t":43.375,"i":211,"g":0},{"t":43.625,"i":213,"g":0},{"t":43.875,"i":211,"g":0},{"t":44.125,"i":215,"g":0},{"t":44.375,"i":211,"g":0},{"t":44.625,"i":213,"g":0},{"t":44.875,"i":211,"g":0},
      {"t":45.125,"i":214,"g":0},{"t":45.375,"i":211,"g":0},{"t":45.625,"i":213,"g":0},{"t":45.875,"i":211,"g":0},{"t":46.125,"i":214,"g":0},{"t":46.375,"i":211,"g":0},{"t":46.625,"i":213,"g":0},{"t":46.875,"i":211,"g":0},{"t":47.125,"i":214,"g":0},{"t":47.375,"i":211,"g":0},{"t":47.625,"i":213,"g":0},{"t":47.875,"i":211,"g":0},{"t":48.125,"i":215,"g":0},{"t":48.375,"i":211,"g":0},{"t":48.625,"i":213,"g":0},{"t":48.875,"i":211,"g":0},{"t":49.125,"i":214,"g":0},{"t":49.375,"i":211,"g":0},{"t":49.625,"i":213,"g":0},{"t":49.875,"i":211,"g":0},
      {"t":50.125,"i":213,"g":0},{"t":50.375,"i":211,"g":0},{"t":50.625,"i":214,"g":0},{"t":50.875,"i":211,"g":0},{"t":51.125,"i":213,"g":0},{"t":51.375,"i":211,"g":0},{"t":51.625,"i":214,"g":0},{"t":51.875,"i":211,"g":0},{"t":52.125,"i":215,"g":0},{"t":52.375,"i":211,"g":0},{"t":52.625,"i":213,"g":0},{"t":52.875,"i":211,"g":0},{"t":53.125,"i":214,"g":0},{"t":53.375,"i":211,"g":0},{"t":53.625,"i":213,"g":0},{"t":53.875,"i":211,"g":0},{"t":54.125,"i":214,"g":0},{"t":54.375,"i":211,"g":0},{"t":54.625,"i":213,"g":0},{"t":54.875,"i":211,"g":0},
      {"t":55.125,"i":213,"g":0},{"t":55.375,"i":211,"g":0},{"t":55.625,"i":214,"g":0},{"t":55.875,"i":211,"g":0},{"t":56.125,"i":213,"g":0},{"t":56.375,"i":211,"g":0},{"t":56.625,"i":214,"g":0},{"t":56.875,"i":211,"g":0},{"t":57.125,"i":213,"g":0},{"t":57.375,"i":211,"g":0},{"t":57.625,"i":215,"g":0},{"t":57.875,"i":211,"g":0},{"t":58.125,"i":213,"g":0},{"t":58.375,"i":211,"g":0},{"t":58.625,"i":214,"g":0},{"t":58.875,"i":211,"g":0},{"t":59.125,"i":213,"g":0},{"t":59.375,"i":211,"g":0},{"t":59.625,"i":214,"g":0},{"t":59.875,"i":211,"g":0},
      {"t":60.125,"i":213,"g":0},{"t":60.375,"i":211,"g":0},{"t":60.625,"i":214,"g":0},{"t":60.875,"i":211,"g":0},{"t":61.125,"i":213,"g":0},{"t":61.375,"i":211,"g":0},{"t":61.625,"i":214,"g":0},{"t":61.875,"i":211,"g":0},{"t":62.125,"i":213,"g":0},{"t":62.375,"i":211,"g":0},{"t":62.625,"i":214,"g":0},{"t":62.875,"i":211,"g":0},{"t":63.125,"i":213,"g":0},{"t":63.375,"i":211,"g":0},{"t":63.625,"i":214,"g":0},{"t":63.875,"i":211,"g":0},{"t":64.125,"i":213,"g":0},{"t":64.375,"i":211,"g":0},{"t":64.625,"i":215,"g":0},{"t":64.875,"i":211,"g":0},
      {"t":65.125,"i":214,"g":0},{"t":65.375,"i":211,"g":0},{"t":65.625,"i":213,"g":0},{"t":65.875,"i":211,"g":0},{"t":66.125,"i":214,"g":0},{"t":66.375,"i":211,"g":0},{"t":66.625,"i":213,"g":0},{"t":66.875,"i":211,"g":0},{"t":67.125,"i":214,"g":0},{"t":67.375,"i":211,"g":0},{"t":67.625,"i":213,"g":0},{"t":67.875,"i":211,"g":0},{"t":68.125,"i":215,"g":0},{"t":68.375,"i":211,"g":0},{"t":68.625,"i":213,"g":0},{"t":68.875,"i":211,"g":0},{"t":69.125,"i":214,"g":0},{"t":69.375,"i":211,"g":0},{"t":69.625,"i":213,"g":0},{"t":69.875,"i":211,"g":0},
      {"t":70.125,"i":213,"g":0},{"t":70.375,"i":211,"g":0},{"t":70.625,"i":214,"g":0},{"t":70.875,"i":211,"g":0},{"t":71.125,"i":213,"g":0},{"t":71.375,"i":211,"g":0},{"t":71.625,"i":214,"g":0},{"t":71.875,"i":211,"g":0},{"t":72.125,"i":213,"g":0},{"t":72.375,"i":211,"g":0},{"t":72.625,"i":214,"g":0},{"t":72.875,"i":211,"g":0},{"t":73.125,"i":213,"g":0},{"t":73.375,"i":211,"g":0},{"t":73.625,"i":215,"g":0},{"t":73.875,"i":211,"g":0},{"t":74.125,"i":213,"g":0},{"t":74.375,"i":211,"g":0},{"t":74.625,"i":214,"g":0},{"t":74.875,"i":211,"g":0},
      {"t":75.125,"i":213,"g":0},{"t":75.375,"i":211,"g":0},{"t":75.625,"i":214,"g":0},{"t":75.875,"i":211,"g":0},{"t":76.125,"i":213,"g":0},{"t":76.375,"i":211,"g":0},{"t":76.625,"i":215,"g":0},{"t":76.875,"i":211,"g":0},{"t":77.125,"i":214,"g":0},{"t":77.375,"i":211,"g":0},{"t":77.625,"i":213,"g":0},{"t":77.875,"i":211,"g":0},{"t":78.125,"i":214,"g":0},{"t":78.375,"i":211,"g":0},{"t":78.625,"i":213,"g":0},{"t":78.875,"i":211,"g":0},{"t":79.125,"i":214,"g":0},{"t":79.375,"i":211,"g":0},{"t":79.625,"i":213,"g":0},{"t":79.875,"i":211,"g":0},
      {"t":80.125,"i":213,"g":0},{"t":80.375,"i":211,"g":0},{"t":80.625,"i":214,"g":0},{"t":80.875,"i":211,"g":0},{"t":81.125,"i":213,"g":0},{"t":81.375,"i":211,"g":0},{"t":81.625,"i":215,"g":0},{"t":81.875,"i":211,"g":0},{"t":82.125,"i":213,"g":0},{"t":82.375,"i":211,"g":0},{"t":82.625,"i":214,"g":0},{"t":82.875,"i":211,"g":0},{"t":83.125,"i":213,"g":0},{"t":83.375,"i":211,"g":0},{"t":83.625,"i":214,"g":0},
      {"t":23.75,"i":213,"g":1},{"t":24,"i":214,"g":1},{"t":24.1,"i":228,"g":1},{"t":24.15,"i":268,"g":1},{"t":24.21,"i":240,"g":1},{"t":24.3,"i":218,"g":1},{"t":24.55,"i":214,"g":1},
      {"t":32.75,"i":213,"g":2},{"t":33,"i":222,"g":2},{"t":33.1,"i":265,"g":2},{"t":33.15,"i":390,"g":2},{"t":33.21,"i":300,"g":2},{"t":33.3,"i":232,"g":2},{"t":33.55,"i":214,"g":2},
      {"t":35.22,"i":213,"g":3},{"t":35.47,"i":219,"g":3},{"t":35.57,"i":250,"g":3},{"t":35.62,"i":342,"g":3},{"t":35.68,"i":276,"g":3},{"t":35.77,"i":227,"g":3},{"t":36.02,"i":214,"g":3},
      {"t":40.45,"i":213,"g":4},{"t":40.7,"i":213,"g":4},{"t":40.8,"i":223,"g":4},{"t":40.85,"i":250,"g":4},{"t":40.91,"i":230,"g":4},{"t":41,"i":216,"g":4},{"t":41.25,"i":214,"g":4},
      {"t":49.07,"i":213,"g":5},{"t":49.32,"i":214,"g":5},{"t":49.42,"i":228,"g":5},{"t":49.47,"i":267,"g":5},{"t":49.53,"i":239,"g":5},{"t":49.62,"i":218,"g":5},{"t":49.87,"i":214,"g":5},
      {"t":53.67,"i":213,"g":6},{"t":53.92,"i":215,"g":6},{"t":54.02,"i":231,"g":6},{"t":54.07,"i":277,"g":6},{"t":54.13,"i":244,"g":6},{"t":54.22,"i":219,"g":6},{"t":54.47,"i":214,"g":6},
      {"t":62.03,"i":213,"g":7},{"t":62.28,"i":214,"g":7},{"t":62.38,"i":228,"g":7},{"t":62.43,"i":268,"g":7},{"t":62.49,"i":240,"g":7},{"t":62.58,"i":218,"g":7},{"t":62.83,"i":214,"g":7},
      {"t":63.58,"i":213,"g":8},{"t":63.83,"i":214,"g":8},{"t":63.93,"i":223,"g":8},{"t":63.98,"i":252,"g":8},{"t":64.04,"i":232,"g":8},{"t":64.13,"i":216,"g":8},{"t":64.38,"i":214,"g":8},
      {"t":71.8,"i":214,"g":9},{"t":71.9,"i":220,"g":9},{"t":71.95,"i":234,"g":9},{"t":72.02,"i":224,"g":9},{"t":72.15,"i":216,"g":9},
      {"t":57.4,"i":213,"g":10},{"t":57.55,"i":218,"g":10},{"t":57.6,"i":222,"g":10},{"t":57.68,"i":219,"g":10},{"t":57.85,"i":213,"g":10},
      {"t":26.9,"i":212,"g":11},{"t":27,"i":219,"g":11},{"t":27.1,"i":213,"g":11},
      {"t":43.4,"i":212,"g":12},{"t":43.5,"i":216,"g":12},{"t":43.6,"i":213,"g":12},
      {"t":65.9,"i":212,"g":13},{"t":66,"i":215,"g":13},{"t":66.1,"i":213,"g":13},
      {"t":69.5,"i":212,"g":14},{"t":69.6,"i":220,"g":14},{"t":69.7,"i":213,"g":14},
      {"t":72.2,"i":212,"g":15},{"t":72.3,"i":218,"g":15},{"t":72.4,"i":213,"g":15},
      {"t":75.35,"i":212,"g":16},{"t":75.45,"i":224,"g":16},{"t":75.55,"i":213,"g":16},
      {"t":77.6,"i":212,"g":17},{"t":77.7,"i":218,"g":17},{"t":77.8,"i":213,"g":17},
      {"t":78.7,"i":212,"g":18},{"t":78.8,"i":216,"g":18},{"t":78.9,"i":213,"g":18},
      {"t":80.6,"i":212,"g":19},{"t":80.7,"i":218,"g":19},{"t":80.8,"i":213,"g":19},
      {"t":82.8,"i":212,"g":20},{"t":82.9,"i":222,"g":20},{"t":83,"i":213,"g":20}
    ],
    "bRef": [
      {"t":24.2,"h":26.3},{"t":33.15,"h":120},{"t":35.6,"h":89.7},{"t":39.3,"h":5},{"t":40.85,"h":28.7},{"t":43.5,"h":5},{"t":49.5,"h":70.3},{"t":54.05,"h":86},{"t":56.15,"h":2.3},{"t":57.4,"h":9.7},{"t":57.6,"h":20.3},{"t":62.4,"h":66},{"t":63.95,"h":67},{"t":66.0,"h":2},{"t":69.6,"h":7},{"t":69.8,"h":7},{"t":71.9,"h":25},{"t":72.25,"h":14.3},{"t":75.4,"h":20.7},{"t":77.7,"h":11},{"t":78.75,"h":5},{"t":80.7,"h":13.3},{"t":82.85,"h":14.3}
    ],
    "bText": [{"t":9.0,"i":428,"s":"(b)"}],
    "bName": [{"t":81.9,"i":428,"s":"Specularite"}]
  },
  "hconcat": [
    {
      "width": 560,
      "height": 467,
      "layer": [
        {
          "data": {"name": "aRef"},
          "mark": {"type": "rule", "color": "#ff0000", "strokeWidth": 1.5},
          "encoding": {
            "x": {"field": "t", "type": "quantitative",
              "scale": {"domain": [5, 85], "nice": false, "zero": false},
              "axis": {
                "title": "2-theate (Degree)",
                "values": [10, 15, 20, 25, 30, 35, 40, 45, 50, 55, 60, 65, 70, 75, 80],
                "labelExpr": "datum.value % 10 === 0 ? datum.label : ''",
                "tickSize": {"condition": {"test": "datum.value % 10 === 0", "value": -7}, "value": -4},
                "tickColor": "#888888",
                "domain": false,
                "grid": false,
                "labelPadding": 14,
                "labelFontSize": 17,
                "labelFont": "Liberation Serif",
                "labelColor": "#000000",
                "labelFlush": false,
                "titleFont": "Liberation Serif",
                "titleFontSize": 20,
                "titleFontWeight": "normal",
                "titleColor": "#000000",
                "titlePadding": 6
              }
            },
            "y": {"field": "h", "type": "quantitative",
              "scale": {"domain": [0, 467], "nice": false},
              "axis": {"title": "Intensity (Counts)", "ticks": false, "labels": false, "domain": false, "grid": false, "titleFont": "Liberation Serif", "titleFontSize": 20, "titleFontWeight": "normal", "titleColor": "#000000", "titlePadding": 6}
            },
            "y2": {"datum": 0}
          }
        },
        {
          "data": {"name": "aScan"},
          "mark": {"type": "line", "color": "#000000", "strokeWidth": 1.3, "clip": true},
          "encoding": {
            "x": {"field": "t", "type": "quantitative"},
            "y": {"field": "i", "type": "quantitative"},
            "detail": {"field": "g", "type": "nominal"}
          }
        },
        {
          "data": {"name": "aText"},
          "mark": {"type": "text", "align": "left", "baseline": "alphabetic", "font": "Liberation Serif", "fontSize": 21, "fontWeight": "bold", "color": "#000000"},
          "encoding": {
            "x": {"field": "t", "type": "quantitative"},
            "y": {"field": "i", "type": "quantitative"},
            "text": {"field": "s"}
          }
        },
        {
          "data": {"name": "aName"},
          "mark": {"type": "text", "align": "right", "baseline": "alphabetic", "font": "Liberation Serif", "fontSize": 21, "fontWeight": "bold", "color": "#000000"},
          "encoding": {
            "x": {"field": "t", "type": "quantitative"},
            "y": {"field": "i", "type": "quantitative"},
            "text": {"field": "s"}
          }
        }
      ]
    },
    {
      "width": 554,
      "height": 467,
      "layer": [
        {
          "data": {"name": "bRef"},
          "mark": {"type": "rule", "color": "#0000ff", "strokeWidth": 1.5},
          "encoding": {
            "x": {"field": "t", "type": "quantitative",
              "scale": {"domain": [5, 83.7], "nice": false, "zero": false},
              "axis": {
                "title": "2-theate (Degree)",
                "values": [10, 15, 20, 25, 30, 35, 40, 45, 50, 55, 60, 65, 70, 75, 80],
                "labelExpr": "datum.value % 10 === 0 ? datum.label : ''",
                "tickSize": {"condition": {"test": "datum.value % 10 === 0", "value": -7}, "value": -4},
                "tickColor": "#888888",
                "domain": false,
                "grid": false,
                "labelPadding": 14,
                "labelFontSize": 17,
                "labelFont": "Liberation Serif",
                "labelColor": "#000000",
                "labelFlush": false,
                "titleFont": "Liberation Serif",
                "titleFontSize": 20,
                "titleFontWeight": "normal",
                "titleColor": "#000000",
                "titlePadding": 6
              }
            },
            "y": {"field": "h", "type": "quantitative",
              "scale": {"domain": [0, 467], "nice": false},
              "axis": {"title": "Intensity (Counts)", "ticks": false, "labels": false, "domain": false, "grid": false, "titleFont": "Liberation Serif", "titleFontSize": 20, "titleFontWeight": "normal", "titleColor": "#000000", "titlePadding": 6}
            },
            "y2": {"datum": 0}
          }
        },
        {
          "data": {"name": "bScan"},
          "mark": {"type": "line", "color": "#000000", "strokeWidth": 1.3, "clip": true},
          "encoding": {
            "x": {"field": "t", "type": "quantitative"},
            "y": {"field": "i", "type": "quantitative"},
            "detail": {"field": "g", "type": "nominal"}
          }
        },
        {
          "data": {"name": "bText"},
          "mark": {"type": "text", "align": "left", "baseline": "alphabetic", "font": "Liberation Serif", "fontSize": 21, "fontWeight": "bold", "color": "#000000"},
          "encoding": {
            "x": {"field": "t", "type": "quantitative"},
            "y": {"field": "i", "type": "quantitative"},
            "text": {"field": "s"}
          }
        },
        {
          "data": {"name": "bName"},
          "mark": {"type": "text", "align": "right", "baseline": "alphabetic", "font": "Liberation Serif", "fontSize": 21, "fontWeight": "bold", "color": "#000000"},
          "encoding": {
            "x": {"field": "t", "type": "quantitative"},
            "y": {"field": "i", "type": "quantitative"},
            "text": {"field": "s"}
          }
        }
      ]
    }
  ]
}
